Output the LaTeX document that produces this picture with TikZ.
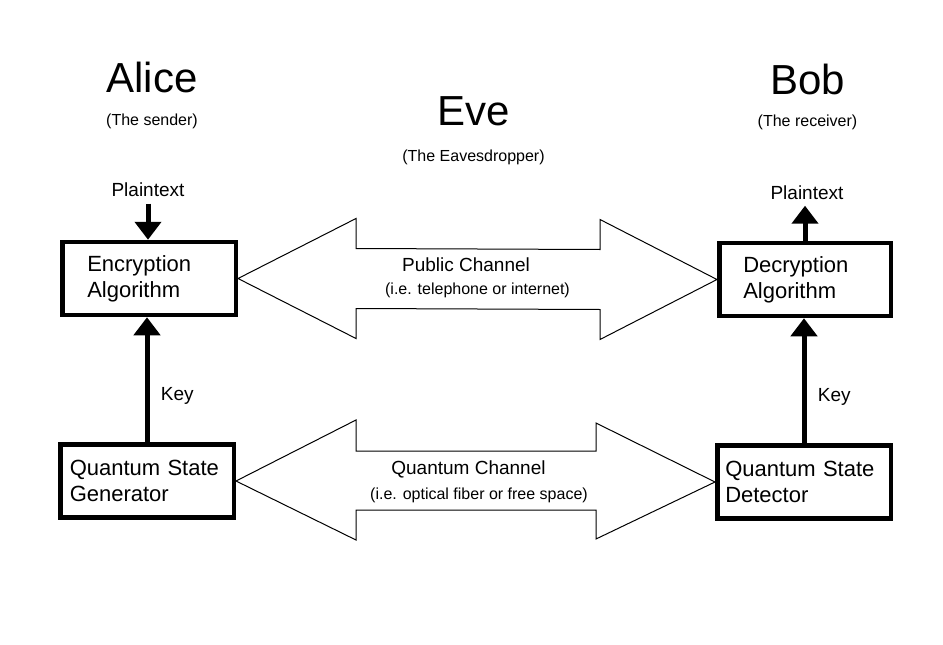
\documentclass[tikz,border=0pt]{standalone}
\usepackage{fontspec}
\setmainfont{Liberation Sans}
\usepackage{tikz}
\usetikzlibrary{arrows.meta,positioning,calc}

\begin{document}
\begin{tikzpicture}[x=1pt,y=-1pt,
  box/.style={draw,line width=4.5pt,minimum height=73pt,inner ysep=0pt,align=left,font=\fontsize{22pt}{26pt}\selectfont},
  who/.style={anchor=base,font=\fontsize{42pt}{48pt}\selectfont},
  role/.style={font=\fontsize{16pt}{19pt}\selectfont},
  lbl/.style={font=\fontsize{19pt}{23pt}\selectfont},
  arr/.style={-{Triangle[width=26pt,length=18pt]},line width=5pt},
  chan/.style={draw,line width=1pt,line join=miter}]
  \useasboundingbox (0,0) rectangle (943,645);
  % the three parties
  \node[who] (alice) at (152,92) {Alice};
  \node[role,below=14pt of alice] (sender) {(The sender)};
  \node[who] (eve) at (473.5,125) {Eve};
  \node[role,below=17pt of eve] (evenote) {(The Eavesdropper)};
  \node[who] (bob) at (807.5,94) {Bob};
  \node[role,below=13pt of bob] (receiver) {(The receiver)};
  % boxes
  \node[box,inner xsep=25pt,text width=123.5pt] (enc) at (149,278.5) {Encryption\\Algorithm};
  \node[box,inner xsep=24pt,text width=123.5pt] (dec) at (805,279.5) {Decryption\\Algorithm};
  \node[box,inner xsep=9.5pt,text width=154.5pt] (qsg) at (147,481) {Quantum State\\Generator};
  \node[box,inner xsep=8pt,text width=157.5pt] (qsd) at (804,482) {Quantum State\\Detector};
  \node[lbl,anchor=base] (ptA) at (148,196) {Plaintext};
  \node[lbl,anchor=base] (ptB) at (807,199) {Plaintext};
  % vertical arrows
  \draw[arr,shorten <=4pt] (ptA.south) -- (ptA.south |- enc.north);
  \draw[arr] (qsg.north) -- (qsg.north |- enc.south) node[lbl,pos=0.37,right=8pt] (keyA) {Key};
  \draw[arr,shorten >=3pt] (dec.north) -- (dec.north |- ptB.south);
  \draw[arr] (qsd.north) -- (qsd.north |- dec.south) node[lbl,pos=0.37,right=8pt] (keyB) {Key};
  % channels
  \draw[chan] (enc.east) -- ++(118,-60) -- ++(0,30) -- ($(dec.west)+(-117,-30)$) -- ++(0,-30)
    -- (dec.west) -- ++(-117,60) -- ++(0,-30) -- ($(enc.east)+(118,30)$) -- ++(0,30) -- cycle;
  \draw[chan] (qsg.east) -- ++(120,-61) -- ++(0,31) -- ($(qsd.west)+(-119,-31)$) -- ++(0,-28)
    -- (qsd.west) -- ++(-119,57) -- ++(0,-29) -- ($(qsg.east)+(120,29)$) -- ++(0,30) -- cycle;
  \node[lbl,anchor=base] (pub) at (466,271) {Public Channel};
  \node[role,below=5pt of pub,xshift=11.5pt] (pubnote) {(i.e. telephone or internet)};
  \node[lbl,anchor=base] (qch) at (468.5,474) {Quantum Channel};
  \node[role,below=3pt of qch,xshift=10.5pt] (qchnote) {(i.e. optical fiber or free space)};
\end{tikzpicture}
\end{document}
